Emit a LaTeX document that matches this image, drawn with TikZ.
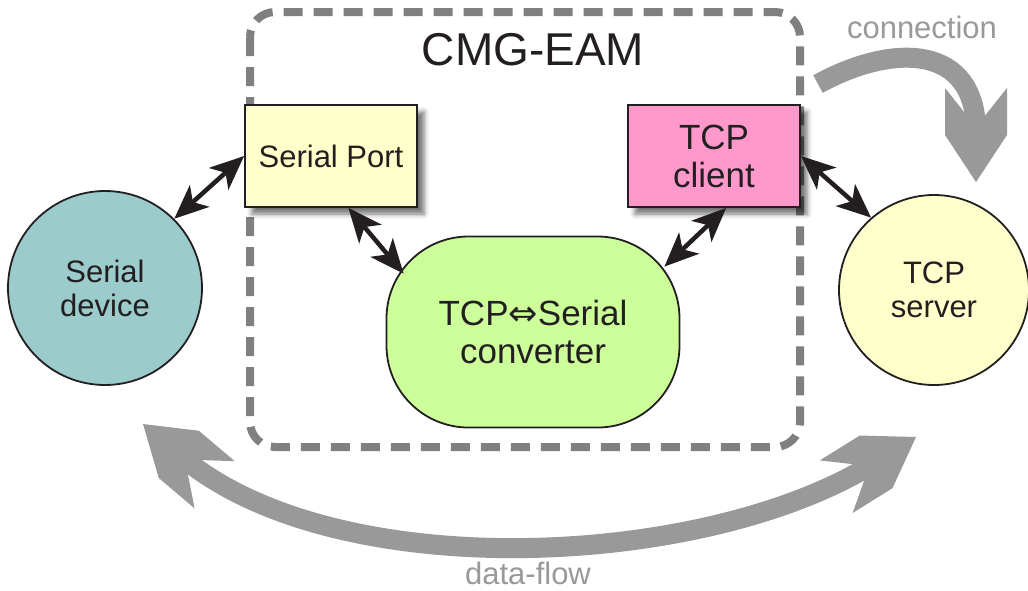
\documentclass[tikz,border=0pt]{standalone}
\usepackage{fontspec}
\setmainfont{Liberation Sans}
\newfontfamily\symfont{DejaVu Sans}
\usetikzlibrary{arrows.meta,calc,shadows.blur}
\definecolor{devteal}{HTML}{9BCBCB}
\definecolor{portyellow}{HTML}{FFFFCC}
\definecolor{clientpink}{HTML}{FF99CC}
\definecolor{convgreen}{HTML}{CCFF99}
\definecolor{boxgray}{HTML}{808080}
\definecolor{flowgray}{HTML}{999999}
\definecolor{ink}{HTML}{231F20}
% fat head of the gray arrows
\pgfdeclarearrow{
  name = FlowHead,
  setup code = {
    \pgfarrowssettipend{0pt}
    \pgfarrowssetbackend{-94pt}
    \pgfarrowssetlineend{-50pt}
    \pgfarrowssetvisualbackend{-55pt}
    \pgfarrowshullpoint{0pt}{0pt}
    \pgfarrowsupperhullpoint{-47pt}{31pt}
    \pgfarrowsupperhullpoint{-94pt}{31pt}
  },
  drawing code = {
    \pgfsetfillcolor{flowgray}
    \pgfpathmoveto{\pgfpointorigin}
    \pgfpathlineto{\pgfpoint{-47pt}{31pt}}
    \pgfpathlineto{\pgfpoint{-94pt}{31pt}}
    \pgfpathlineto{\pgfpoint{-55pt}{0pt}}
    \pgfpathlineto{\pgfpoint{-94pt}{-31pt}}
    \pgfpathlineto{\pgfpoint{-47pt}{-31pt}}
    \pgfpathclose
    \pgfusepathqfill
  }
}
\begin{document}
\begin{tikzpicture}[x=1pt,y=-1pt,
    every node/.style={align=center,text=ink},
    txt/.style={font=\fontsize{31}{34}\selectfont},
    bigtxt/.style={font=\fontsize{35}{38}\selectfont},
    portbox/.style={draw=ink,line width=1.8pt,minimum width=172pt,minimum height=102pt,
      blur shadow={shadow xshift=7pt,shadow yshift=-7pt,shadow blur radius=5pt,shadow opacity=55}},
    endpoint/.style={circle,draw=ink,line width=1.8pt,txt},
    linktip/.tip={Stealth[length=34pt,width=29pt,inset=9pt]},
    link/.style={draw=ink,line width=4.5pt,linktip-linktip},
    flow/.style={draw=flowgray,line width=20pt},
    graylabel/.style={txt,text=flowgray}]
  \useasboundingbox (0,0) rectangle (1028,590);
  % the CMG-EAM box
  \draw[boxgray,line width=8pt,dash pattern=on 19pt off 11pt,rounded corners=25pt]
    (250,12) rectangle (800,447);
  \node[font=\fontsize{46}{50}\selectfont] (title) at (533,50) {CMG-EAM};
  % blocks
  \node[portbox,fill=portyellow,txt] (sp) at (331,156) {Serial Port};
  \node[portbox,fill=clientpink,bigtxt] (tc) at (714,156) {TCP\\client};
  \node[draw=ink,line width=1.8pt,fill=convgreen,minimum width=293pt,minimum height=191pt,
    rounded corners=82pt,bigtxt] (conv) at (533,332) {TCP{\symfont ⇔}Serial\\converter};
  \node[endpoint,fill=devteal,minimum size=194pt] (sd) at (105,288) {Serial\\device};
  \node[endpoint,fill=portyellow,minimum size=190pt] (ts) at (934,290) {TCP\\server};
  % links
  \draw[link] (sp.west) -- (sd.45);
  \draw[link] ($(sp.south west)!.6!(sp.south east)$) -- ($(conv.north west)+(18,38)$);
  \draw[link] ($(tc.south west)!.57!(tc.south east)$) -- ($(conv.north east)+(-16,31)$);
  \draw[link] (tc.east) -- (ts.131);
  % big gray arrows
  \coordinate (cstart) at (818,84);
  \coordinate (cend) at (976,182);
  \draw[flow,-FlowHead] (cstart) .. controls (895,42) and (976,45) .. (cend);
  \node[graylabel] (conn) at (922,27) {connection};
  \coordinate (dleft) at (143,424);
  \coordinate (dright) at (916,437);
  \draw[flow,FlowHead-FlowHead] (dleft) .. controls (334,586) and (704,569) .. (dright);
  \node[graylabel] (df) at (528,573) {data-flow};
\end{tikzpicture}
\end{document}
